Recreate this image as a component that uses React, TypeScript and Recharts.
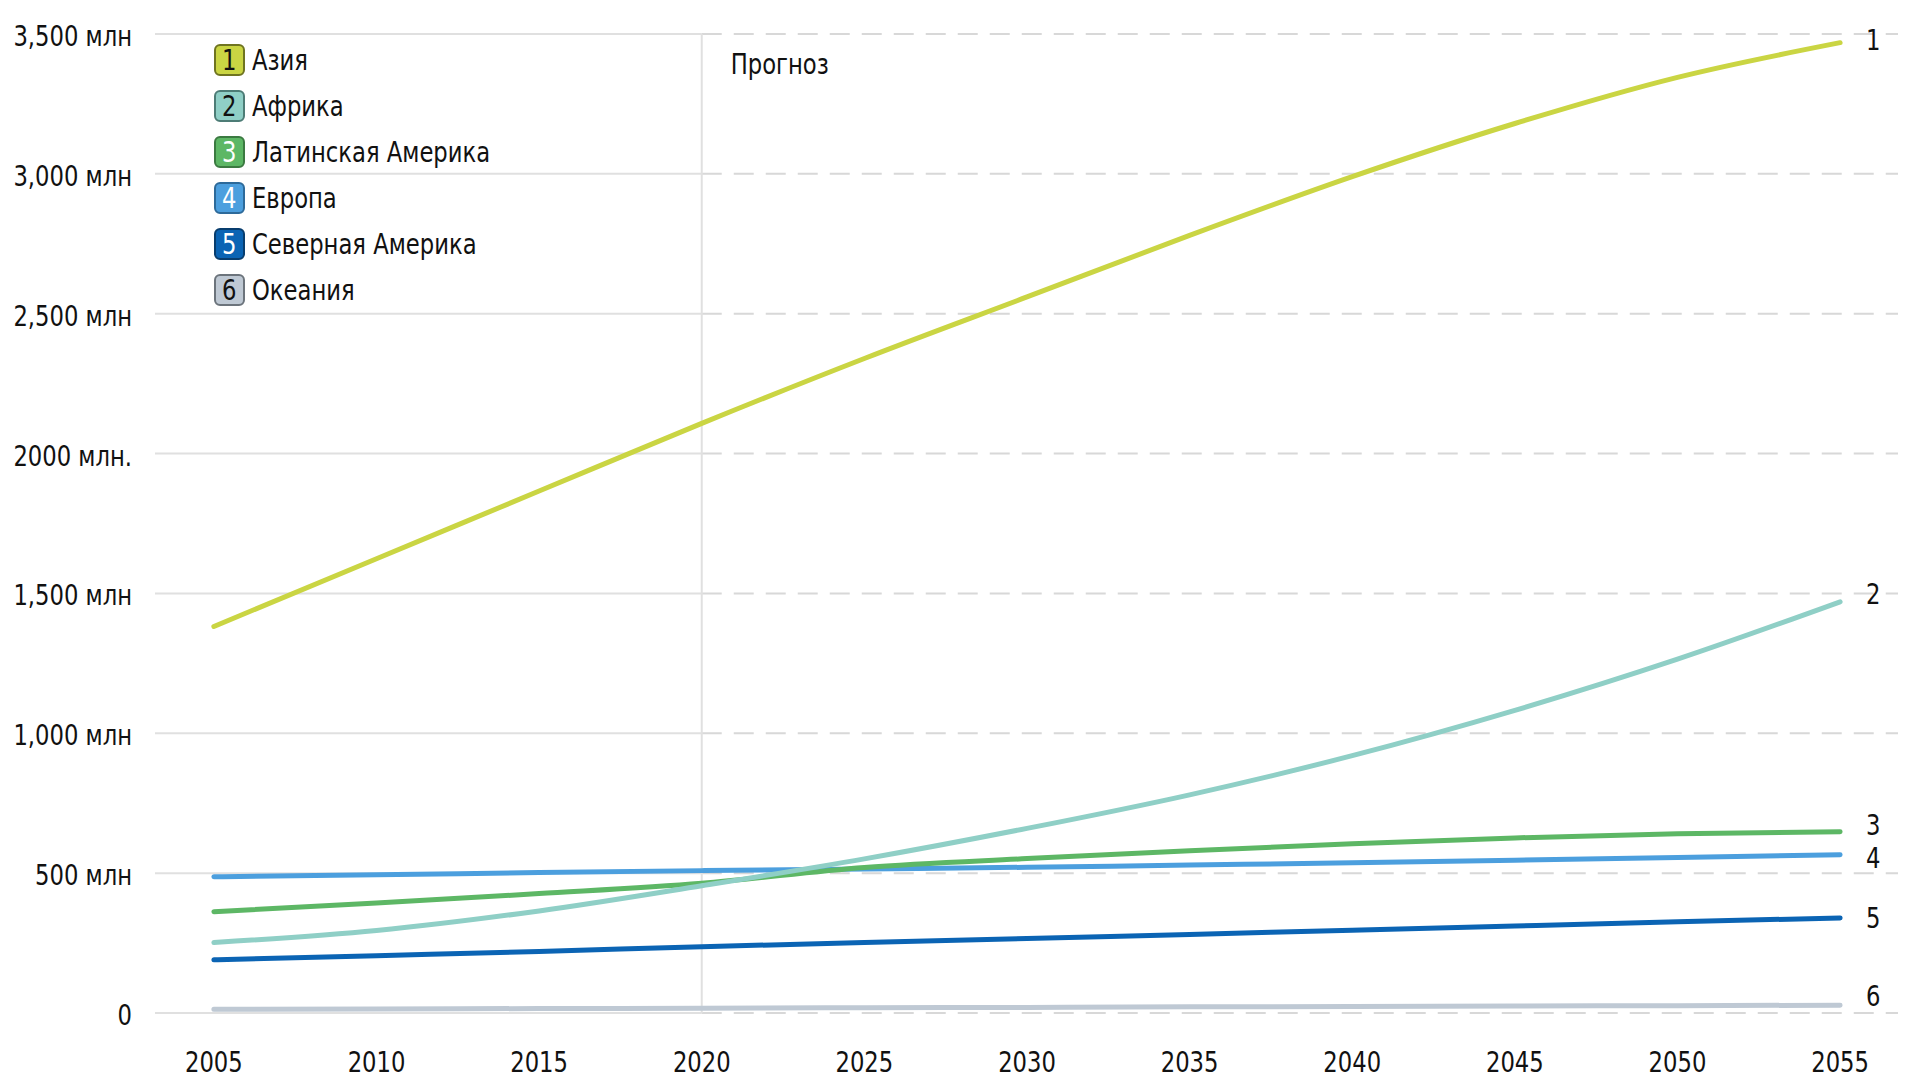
import { LineChart, Line, XAxis, YAxis, ReferenceLine } from 'recharts';

// Population by region, millions (2005-2020 actual, after 2020 forecast)
const years = [2005, 2010, 2015, 2020, 2025, 2030, 2035, 2040, 2045, 2050, 2055];
const asia = [1382, 1624, 1866, 2108, 2340, 2560, 2780, 2990, 3180, 3345, 3469];
const africa = [252, 295, 365, 455, 551, 660, 780, 920, 1082, 1265, 1470];
const latinAmerica = [362, 393, 427, 464, 520, 552, 580, 605, 626, 641, 648];
const europe = [487, 494, 502, 509, 515, 521, 529, 537, 546, 556, 566];
const northAmerica = [190, 205, 220, 237, 252, 266, 281, 296, 311, 326, 340];
const oceania = [13, 14, 16, 17, 19, 20, 22, 23, 25, 26, 28];

const seriesNames = ['Азия', 'Африка', 'Латинская Америка', 'Европа', 'Северная Америка', 'Океания'];
const seriesValues = [asia, africa, latinAmerica, europe, northAmerica, oceania];
const seriesColors = ['#cad543', '#8fcfc6', '#5db765', '#4c9fde', '#0b64b4', '#bfc9d4'];
const boxBorders = ['#6f7420', '#4d7c76', '#3b7a41', '#2d6a9a', '#083d6e', '#6c747c'];
const boxText = ['#111', '#111', '#fff', '#fff', '#fff', '#111'];
const endLabelShift = [-3, -8, -7, 3, 0, -9];

const yTicks = [0, 500, 1000, 1500, 2000, 2500, 3000, 3500];
const yTickLabels = ['0', '500 млн', '1,000 млн', '1,500 млн', '2000 млн.', '2,500 млн', '3,000 млн', '3,500 млн'];

const forecastYear = 2020;
const xMin = 2003.19;
const xMax = 2056.78;

const FONT = "'DejaVu Sans Condensed', 'DejaVu Sans', sans-serif";
const FONT_SIZE = 29;
const SQUEEZE = 0.87;

const data = years.map((year, i) => {
  const row: Record<string, number> = { year };
  seriesValues.forEach((vals, s) => {
    row[`s${s}`] = vals[i];
  });
  return row;
});

const NarrowText = ({ x, y, anchor, children }: any) => (
  <text
    transform={`translate(${x},${y}) scale(${SQUEEZE},1)`}
    textAnchor={anchor}
    fill="#111"
    fontFamily={FONT}
    fontSize={FONT_SIZE}
  >
    {children}
  </text>
);

const YTick = (props: any) => {
  const { x, y, payload } = props;
  const idx = yTicks.indexOf(payload.value);
  return (
    <NarrowText x={x} y={y + 12} anchor="end">
      {yTickLabels[idx]}
    </NarrowText>
  );
};

const XTick = (props: any) => {
  const { x, y, payload } = props;
  return (
    <NarrowText x={x} y={y + 59} anchor="middle">
      {payload.value}
    </NarrowText>
  );
};

const LegendBox = () => (
  <div
    style={{
      position: 'absolute',
      left: 214,
      top: 37,
      fontFamily: FONT,
      fontSize: FONT_SIZE,
      color: '#111',
    }}
  >
    {seriesNames.map((name, i) => (
      <div key={name} style={{ display: 'flex', alignItems: 'center', height: 46 }}>
        <div
          style={{
            width: 31,
            height: 32,
            boxSizing: 'border-box',
            borderRadius: 6,
            background: seriesColors[i],
            border: `2px solid ${boxBorders[i]}`,
            color: boxText[i],
            display: 'flex',
            alignItems: 'center',
            justifyContent: 'center',
            marginRight: 7,
            lineHeight: 1,
          }}
        >
          <span style={{ display: 'inline-block', transform: `scaleX(${SQUEEZE})` }}>{i + 1}</span>
        </div>
        <span
          style={{
            display: 'inline-block',
            transform: `scaleX(${SQUEEZE})`,
            transformOrigin: 'left center',
            whiteSpace: 'nowrap',
          }}
        >
          {name}
        </span>
      </div>
    ))}
  </div>
);

const makeEndLabel = (s: number) => (props: any) => {
  const { x, y, index } = props;
  if (index !== years.length - 1) return <g />;
  return (
    <NarrowText x={x + 33} y={y + endLabelShift[s] + 10} anchor="middle">
      {s + 1}
    </NarrowText>
  );
};

const ForecastLabel = (props: any) => {
  const { viewBox } = props;
  return (
    <NarrowText x={viewBox.x + 29} y={viewBox.y + 40} anchor="start">
      Прогноз
    </NarrowText>
  );
};

export default function App() {
  const drawOrder = [5, 4, 3, 2, 1, 0];
  return (
    <div style={{ position: 'relative', width: 1920, height: 1087, background: '#fff' }}>
      <style>{'body{margin:0;background:#fff}'}</style>
      <LineChart width={1920} height={1087} data={data} margin={{ top: 34, right: 22, bottom: 0, left: 0 }}>
        <XAxis
          dataKey="year"
          type="number"
          domain={[xMin, xMax]}
          ticks={years}
          axisLine={false}
          tickLine={false}
          tickSize={0}
          tickMargin={0}
          height={74}
          tick={<XTick />}
          allowDataOverflow
        />
        <YAxis
          domain={[0, 3500]}
          ticks={yTicks}
          axisLine={false}
          tickLine={false}
          tickSize={0}
          tickMargin={23}
          width={155}
          tick={<YTick />}
        />
        {yTicks.map((v) => (
          <ReferenceLine
            key={`solid-${v}`}
            segment={[{ x: xMin, y: v }, { x: forecastYear, y: v }]}
            stroke="#e0e0e0"
            strokeWidth={2}
          />
        ))}
        {yTicks.map((v) => (
          <ReferenceLine
            key={`dash-${v}`}
            segment={[{ x: forecastYear, y: v }, { x: xMax, y: v }]}
            stroke="#d8d8d8"
            strokeWidth={2}
            strokeDasharray="20 12"
          />
        ))}
        <ReferenceLine x={forecastYear} stroke="#e0e0e0" strokeWidth={2} label={<ForecastLabel />} />
        {drawOrder.map((s) => (
          <Line
            key={s}
            type="monotone"
            dataKey={`s${s}`}
            name={seriesNames[s]}
            stroke={seriesColors[s]}
            strokeWidth={5}
            strokeLinecap="round"
            dot={false}
            activeDot={false}
            label={makeEndLabel(s)}
            isAnimationActive={false}
          />
        ))}
      </LineChart>
      <LegendBox />
    </div>
  );
}
